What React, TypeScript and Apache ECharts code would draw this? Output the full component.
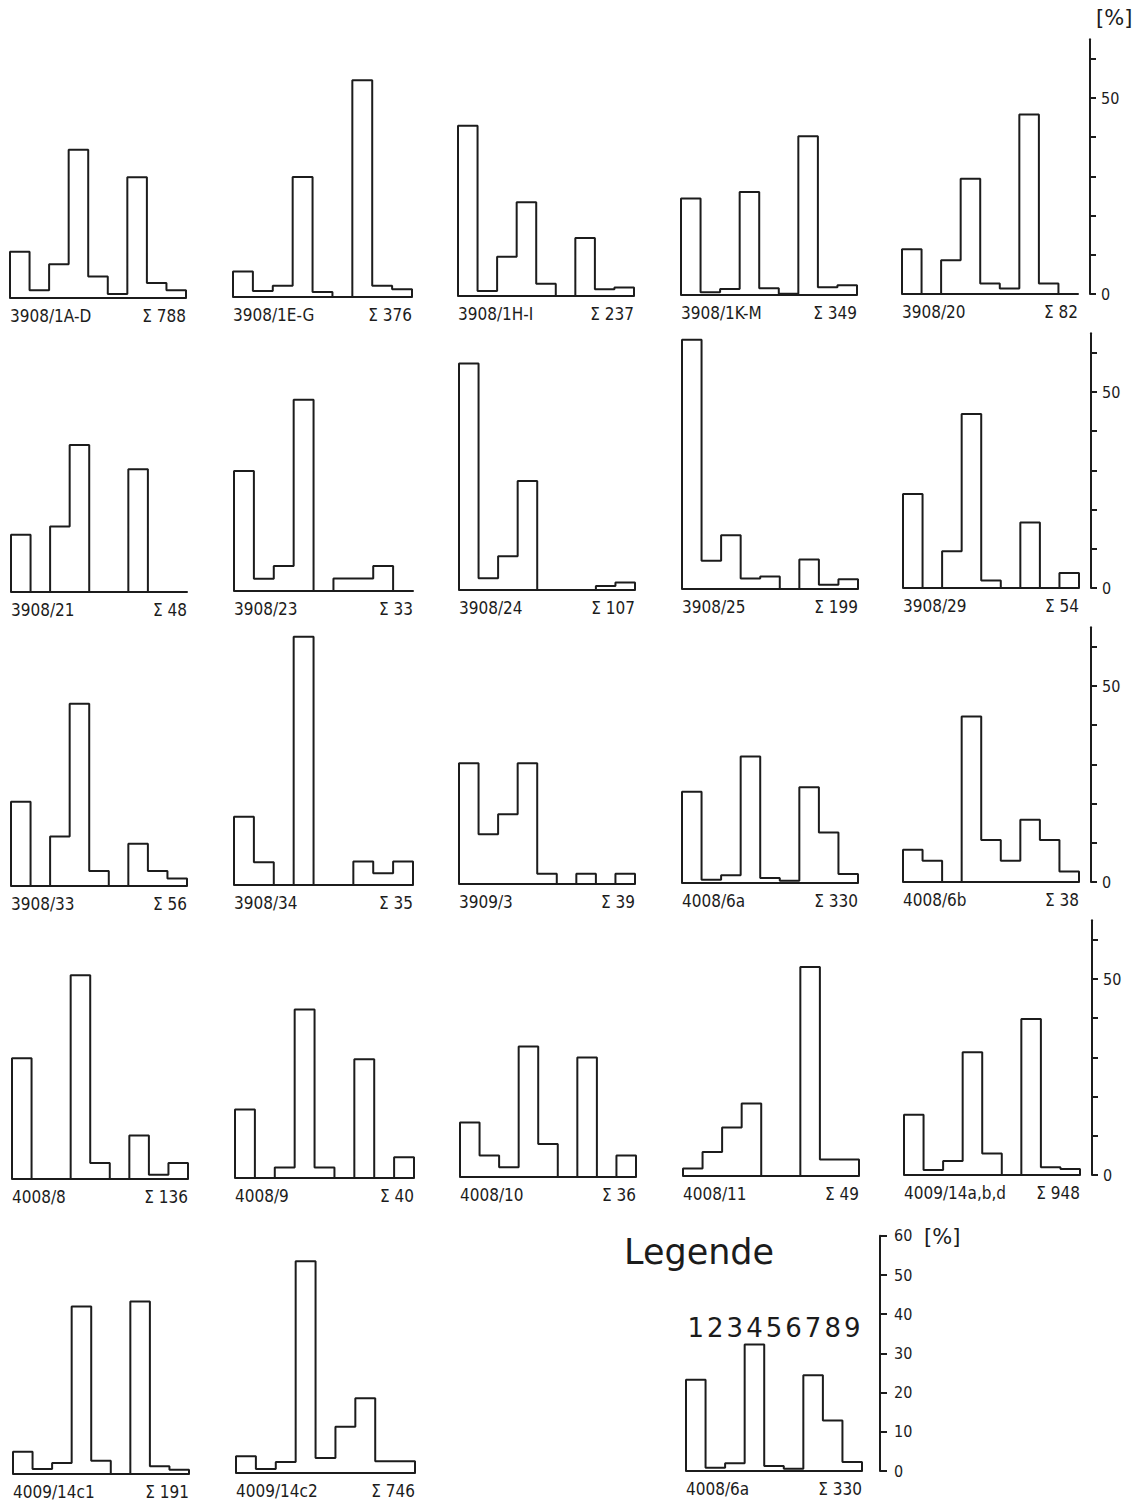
import React, { useEffect, useRef } from 'react';
import * as echarts from 'echarts';

// ---------- data ----------
const BIN_LABELS = ['1', '2', '3', '4', '5', '6', '7', '8', '9'];

const s3908_1AD = [11.8, 2, 8.6, 37.8, 5.5, 1, 30.8, 3.8, 2];
const s3908_1EG = [6.5, 1.5, 2.9, 30.6, 1.3, 0, 55.3, 2.9, 2];
const s3908_1HI = [43.4, 1.3, 10, 23.9, 3.1, 0, 14.8, 1.7, 2.2];
const s3908_1KM = [24.6, 0.7, 1.5, 26.3, 1.7, 0.3, 40.5, 2, 2.5];
const s3908_20 = [11.4, 0, 8.6, 29.4, 2.7, 1.4, 45.8, 2.7, 0];
const s3908_21 = [14.6, 0, 16.7, 37.5, 0, 0, 31.3, 0, 0];
const s3908_23 = [30.6, 3.1, 6.4, 48.8, 0, 3.2, 3.2, 6.4, 0];
const s3908_24 = [57.8, 3, 8.6, 27.8, 0, 0, 0, 1, 1.9];
const s3908_25 = [63.6, 7.2, 13.7, 2.7, 3.2, 0, 7.5, 1.1, 2.5];
const s3908_29 = [24, 0, 9.4, 44.4, 1.9, 0, 16.7, 0, 3.8];
const s3908_33 = [21.5, 0, 12.6, 46.5, 3.8, 0, 10.8, 3.8, 1.9];
const s3908_34 = [17.4, 5.8, 0, 63.3, 0, 0, 6, 3, 6];
const s3909_3 = [30.8, 12.7, 17.8, 30.8, 2.6, 0, 2.6, 0, 2.6];
const s4008_6a = [23.3, 0.8, 2, 32.3, 1.3, 0.6, 24.4, 12.9, 2.3];
const s4008_6b = [8.2, 5.4, 0, 42.2, 10.7, 5.4, 15.9, 10.7, 2.7];
const s4008_8 = [30.8, 0, 0, 52, 4.1, 0, 11.1, 1.1, 4.1];
const s4008_9 = [17.5, 0, 2.7, 43, 2.7, 0, 30.3, 0, 5.3];
const s4008_10 = [13.9, 5.5, 2.5, 33.3, 8.4, 0, 30.5, 0, 5.5];
const s4008_11 = [1.9, 6.1, 12.4, 18.5, 0, 0, 53.3, 4.2, 4.2];
const s4009_14abd = [15.4, 1.3, 3.6, 31.3, 5.5, 0, 39.8, 2, 1.5];
const s4009_14c1 = [5.7, 1.3, 2.8, 42.7, 3.4, 0, 44, 2, 1.1];
const s4009_14c2 = [4.3, 1, 2.8, 54, 3.8, 11.8, 19.1, 3, 3];

const SAMPLE_NAMES = [
  '3908/1A-D', '3908/1E-G', '3908/1H-I', '3908/1K-M', '3908/20',
  '3908/21', '3908/23', '3908/24', '3908/25', '3908/29',
  '3908/33', '3908/34', '3909/3', '4008/6a', '4008/6b',
  '4008/8', '4008/9', '4008/10', '4008/11', '4009/14a,b,d',
  '4009/14c1', '4009/14c2',
];
const SAMPLE_TOTALS = [
  788, 376, 237, 349, 82,
  48, 33, 107, 199, 54,
  56, 35, 39, 330, 38,
  136, 40, 36, 49, 948,
  191, 746,
];
const SAMPLE_VALUES = [
  s3908_1AD, s3908_1EG, s3908_1HI, s3908_1KM, s3908_20,
  s3908_21, s3908_23, s3908_24, s3908_25, s3908_29,
  s3908_33, s3908_34, s3909_3, s4008_6a, s4008_6b,
  s4008_8, s4008_9, s4008_10, s4008_11, s4009_14abd,
  s4009_14c1, s4009_14c2,
];

const LEGEND_NAME = '4008/6a';
const LEGEND_TOTAL = 330;
const LEGEND_VALUES = s4008_6a;

const ROW_AXIS_TICKS = [0, 10, 20, 30, 40, 50, 60];
const ROW_AXIS_LABELS = [0, 50];

// ---------- layout ----------
const W = 1141;
const H = 1503;
const PX = 3.92; // px per percent
const YMAX = 65;
const LEGEND_YMAX = 60;
const COL_X = [10, 233, 458, 681, 902];
const COL_W = [176, 179, 176, 176, 176];
const COL_DY = [5, 4, 3, 2, 1];
const ROW_ZERO = [293, 587, 881, 1174, 1469];
const ROW_DX = [0, 1, 1, 2, 3];
const INK = '#1c1c1c';
const FONT = "'DejaVu Sans Condensed', 'Liberation Sans Narrow', 'DejaVu Sans', sans-serif";
const FONT_WIDE = "'DejaVu Sans', sans-serif";

function outline(values: number[]): number[][] {
  const pts: number[][] = [[0, 0]];
  values.forEach((v, i) => {
    pts.push([i, v]);
    pts.push([i + 1, v]);
  });
  pts.push([values.length, 0]);
  return pts;
}

function buildOption() {
  const grid: any[] = [];
  const xAxis: any[] = [];
  const yAxis: any[] = [];
  const series: any[] = [];

  const addHist = (
    idx: number,
    left: number,
    width: number,
    base: number,
    ymax: number,
    name: string,
    total: number,
    values: number[],
    yAxisCfg: any
  ) => {
    grid.push({ left, top: base - ymax * PX, width, height: ymax * PX });
    xAxis.push({
      gridIndex: idx,
      type: 'value',
      min: 0,
      max: 9,
      interval: 9,
      axisLine: { show: true, onZero: false, lineStyle: { color: INK, width: 2 } },
      axisTick: { show: false },
      splitLine: { show: false },
      axisLabel: {
        show: true,
        margin: 9,
        fontSize: 17,
        color: INK,
        fontFamily: FONT,
        alignMinLabel: 'left',
        alignMaxLabel: 'right',
        formatter: (v: number) => (v === 0 ? name : v === 9 ? 'Σ ' + total : ''),
      },
    });
    yAxis.push({ gridIndex: idx, type: 'value', min: 0, max: ymax, ...yAxisCfg });
    series.push({
      type: 'line',
      xAxisIndex: idx,
      yAxisIndex: idx,
      data: outline(values),
      symbol: 'none',
      clip: false,
      silent: true,
      lineStyle: { color: INK, width: 2 },
    });
  };

  SAMPLE_VALUES.forEach((vals, i) => {
    const r = Math.floor(i / 5);
    const c = i % 5;
    const left = COL_X[c] + ROW_DX[r];
    const base = ROW_ZERO[r] + COL_DY[c];
    const yCfg =
      c === 4
        ? {
            show: true,
            position: 'right',
            offset: 12,
            axisLine: { show: true, onZero: false, lineStyle: { color: INK, width: 2 } },
            axisTick: {
              show: true,
              length: 6,
              customValues: ROW_AXIS_TICKS,
              lineStyle: { color: INK, width: 2 },
            },
            axisLabel: {
              show: true,
              customValues: ROW_AXIS_LABELS,
              margin: 11,
              fontSize: 16,
              color: INK,
              fontFamily: FONT,
            },
            splitLine: { show: false },
          }
        : { show: false };
    addHist(i, left, COL_W[c], base, YMAX, SAMPLE_NAMES[i], SAMPLE_TOTALS[i], vals, yCfg);
  });

  // legend histogram
  const li = SAMPLE_VALUES.length;
  addHist(li, 686, 176, 1471, LEGEND_YMAX, LEGEND_NAME, LEGEND_TOTAL, LEGEND_VALUES, {
    show: true,
    position: 'right',
    offset: 18,
    interval: 10,
    axisLine: { show: true, onZero: false, lineStyle: { color: INK, width: 2 } },
    axisTick: { show: true, length: 7, lineStyle: { color: INK, width: 2 } },
    axisLabel: { show: true, margin: 14, fontSize: 16, color: INK, fontFamily: FONT },
    splitLine: { show: false },
  });

  // legend bin numbers
  const di = li + 1;
  grid.push({ left: 686, top: 1343, width: 176, height: 1 });
  xAxis.push({
    gridIndex: di,
    type: 'category',
    data: BIN_LABELS,
    position: 'top',
    boundaryGap: true,
    axisLine: { show: false },
    axisTick: { show: false },
    splitLine: { show: false },
    axisLabel: { show: true, interval: 0, margin: 2, fontSize: 26, color: INK, fontFamily: FONT_WIDE },
  });
  yAxis.push({ gridIndex: di, type: 'value', min: 0, max: 1, show: false });

  return {
    animation: false,
    backgroundColor: '#ffffff',
    textStyle: { fontFamily: FONT, color: INK },
    grid,
    xAxis,
    yAxis,
    series,
    graphic: [
      {
        type: 'text',
        left: 1096,
        top: 7,
        style: { text: '[%]', fontSize: 21, fill: INK, fontFamily: FONT_WIDE },
      },
      {
        type: 'text',
        left: 924,
        top: 1226,
        style: { text: '[%]', fontSize: 21, fill: INK, fontFamily: FONT_WIDE },
      },
      {
        type: 'text',
        left: 624,
        top: 1234,
        style: { text: 'Legende', fontSize: 35, fill: INK, fontFamily: FONT_WIDE },
      },
    ],
  };
}

export default function App() {
  const ref = useRef<HTMLDivElement>(null);
  useEffect(() => {
    if (!ref.current) return;
    const chart = echarts.init(ref.current, undefined, { renderer: 'svg' });
    chart.setOption(buildOption() as any);
    return () => chart.dispose();
  }, []);
  return (
    <div
      ref={ref}
      style={{ position: 'absolute', left: 0, top: 0, width: W, height: H, background: '#fff' }}
    />
  );
}
